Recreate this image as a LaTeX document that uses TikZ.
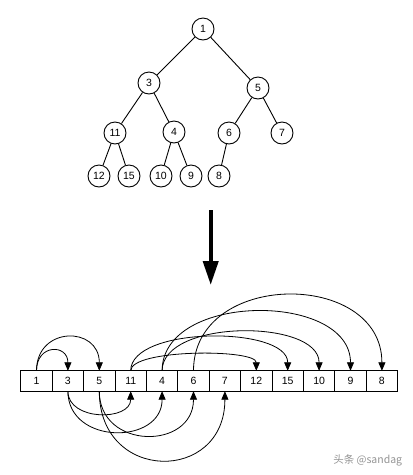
\documentclass[tikz,border=0pt]{standalone}
\usepackage{fontspec}
\setmainfont{Liberation Sans}
\newfontfamily\cjk{Noto Sans CJK SC}
\usetikzlibrary{arrows.meta}

\tikzset{
  knot/.style={draw, circle, line width=0.9pt, minimum size=22pt, inner sep=0pt, font=\fontsize{10.5}{12}\selectfont},
  cell/.style={draw, rectangle, line width=0.9pt, minimum width=31.4pt, minimum height=20.4pt, inner sep=0pt, outer sep=0pt, font=\fontsize{10.5}{12}\selectfont},
  link/.style={line width=0.8pt, -{Triangle[length=8.5pt,width=7pt]}},
}

\begin{document}
\begin{tikzpicture}[x=1pt, y=-1pt, line width=0.9pt]
\useasboundingbox (0,0) rectangle (413,475);
% tree
\node[knot] (t1) at (203,29) {1};
\node[knot] (t3) at (149,83) {3};
\node[knot] (t5) at (258,88) {5};
\node[knot] (t11) at (115,133) {11};
\node[knot] (t4) at (174,132) {4};
\node[knot] (t6) at (229,133) {6};
\node[knot] (t7) at (282,133) {7};
\node[knot] (t12) at (99,176) {12};
\node[knot] (t15) at (129,176) {15};
\node[knot] (t10) at (161,176) {10};
\node[knot] (t9) at (191,176) {9};
\node[knot] (t8) at (219,176) {8};
\draw (t1) -- (t3);
\draw (t1) -- (t5);
\draw (t3) -- (t11);
\draw (t3) -- (t4);
\draw (t5) -- (t6);
\draw (t5) -- (t7);
\draw (t11) -- (t12);
\draw (t11) -- (t15);
\draw (t4) -- (t10);
\draw (t4) -- (t9);
\draw (t6) -- (t8);

% big arrow
\coordinate (down1) at (210.7,210);
\coordinate (down2) at (210.7,285);
\draw[line width=4pt, -{Triangle[length=24pt,width=15pt]}] (down1) -- (down2);

% array
\foreach \v [count=\i] in {1,3,5,11,4,6,7,12,15,10,9,8}
  \node[cell] (a\v) at (36.5+31.4*\i-31.4,381) {\v};

% children above
\draw[link] (a1.north) .. controls +(0,-27) and +(0,-27) .. (a3.north);
\draw[link] (a1.north) .. controls +(0,-45) and +(0,-45) .. (a5.north);
\draw[link] (a11.north) .. controls +(0,-22) and +(0,-22) .. (a12.north);
\draw[link] (a11.north) .. controls +(0,-45) and +(0,-45) .. (a15.north);
\draw[link] (a4.north) .. controls +(0,-52) and +(0,-52) .. (a10.north);
\draw[link] (a4.north) .. controls +(0,-79) and +(0,-79) .. (a9.north);
\draw[link] (a6.north) .. controls +(0,-101) and +(0,-101) .. (a8.north);

% children below
\draw[link] (a3.south) .. controls +(0,30) and +(0,30) .. (a11.south);
\draw[link] (a3.south) .. controls +(0,54) and +(0,54) .. (a4.south);
\draw[link] (a5.south) .. controls +(0,59) and +(0,59) .. (a6.south);
\draw[link] (a5.south) .. controls +(0,92) and +(0,92) .. (a7.south);

% watermark
\node[text=gray!85, font=\fontsize{10.5}{12}\selectfont] (mark) at (367.7,460.7) {\cjk 头条 @sandag};
\end{tikzpicture}
\end{document}
